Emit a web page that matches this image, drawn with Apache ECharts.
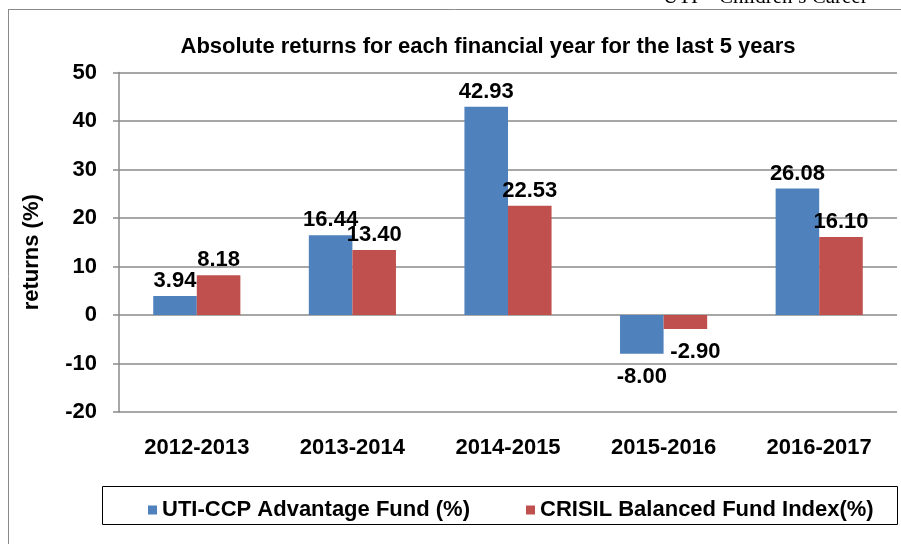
<!DOCTYPE html>
<html>
<head>
<meta charset="utf-8">
<script src="https://cdn.jsdelivr.net/npm/echarts@6/dist/echarts.min.js"></script>
<style>
    html, body { margin: 0; padding: 0; background: #fff; }
    #chart { width: 901px; height: 544px; }
</style>
</head>
<body>
<div id="chart"></div>
<script>
    // data
    var years = ['2012-2013', '2013-2014', '2014-2015', '2015-2016', '2016-2017'];
    var utiFund = [3.94, 16.44, 42.93, -8.00, 26.08];
    var crisilIndex = [8.18, 13.40, 22.53, -2.90, 16.10];
    var seriesNames = ['UTI-CCP Advantage Fund (%)', 'CRISIL Balanced Fund Index(%)'];
    var yTicks = { min: -20, max: 50, step: 10 };

    var font = '"Liberation Sans", Arial, sans-serif';
    var colors = ['#4F81BD', '#C0504D'];
    var boldText = { fontFamily: font, fontSize: 22, fontWeight: 'bold', color: '#000' };

    // labels go above positive bars and below negative ones
    function withLabels(values, negOffset) {
        return values.map(function (v) {
            if (v >= 0) return { value: v };
            return {
                value: v,
                label: { position: 'bottom', distance: 12, offset: negOffset }
            };
        });
    }

    function barLabel() {
        return Object.assign({
            show: true,
            position: 'top',
            distance: 4,
            formatter: function (p) { return p.value.toFixed(2); }
        }, boldText);
    }

    function legendFor(name, left) {
        return {
            data: [name],
            left: left,
            top: 494,
            icon: 'rect',
            itemWidth: 9,
            itemHeight: 9,
            itemGap: 5,
            textStyle: boldText
        };
    }

    var myChart = echarts.init(document.getElementById('chart'));
    var option = {
        animation: false,
        color: colors,
        title: {
            text: 'Absolute returns for each financial year for the last 5 years',
            left: 483,
            top: 31,
            textAlign: 'center',
            textStyle: boldText
        },
        graphic: [
            { type: 'line', shape: { x1: 8, y1: 9.5, x2: 901, y2: 9.5 }, style: { stroke: '#8a8a8a', lineWidth: 1 } },
            { type: 'line', shape: { x1: 8.5, y1: 9, x2: 8.5, y2: 544 }, style: { stroke: '#8a8a8a', lineWidth: 1 } },
            {
                type: 'text', left: 663, top: -13,
                style: { text: 'UTI \u2013 Children\u2019s Career', font: '21px "Liberation Serif", serif', fill: '#000' }
            },
            { type: 'rect', shape: { x: 102.5, y: 486.5, width: 795, height: 38 }, style: { fill: 'none', stroke: '#000', lineWidth: 1 } }
        ],
        legend: [legendFor(seriesNames[0], 143), legendFor(seriesNames[1], 521)],
        grid: { left: 119, right: 4, top: 72.5, bottom: 132 },
        xAxis: {
            type: 'category',
            data: years,
            axisLine: { show: false },
            axisTick: { show: false },
            axisLabel: Object.assign({ margin: 25 }, boldText)
        },
        yAxis: {
            type: 'value',
            min: yTicks.min,
            max: yTicks.max,
            interval: yTicks.step,
            name: 'returns (%)',
            nameLocation: 'middle',
            nameGap: 76,
            nameTextStyle: Object.assign({ padding: [0, 20, 0, 0] }, boldText),
            axisLine: { show: true, lineStyle: { color: '#8a8a8a', width: 1.5 } },
            axisTick: { show: true, length: 6, lineStyle: { color: '#8a8a8a', width: 1.5 } },
            axisLabel: Object.assign({ margin: 22 }, boldText),
            splitLine: { lineStyle: { color: '#8a8a8a', width: 1.5 } }
        },
        series: [
            {
                name: seriesNames[0],
                type: 'bar',
                barGap: '0%',
                barCategoryGap: '44%',
                data: withLabels(utiFund, [0, 0]),
                label: barLabel()
            },
            {
                name: seriesNames[1],
                type: 'bar',
                data: withLabels(crisilIndex, [10, 0]),
                label: barLabel()
            }
        ]
    };
    myChart.setOption(option);
</script>
</body>
</html>
